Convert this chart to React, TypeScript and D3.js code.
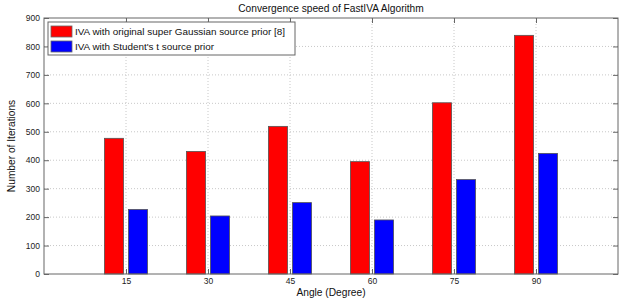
import { useRef, useEffect } from 'react';
import * as d3 from 'd3';

const angles = [15, 30, 45, 60, 75, 90];
const originalPrior = [477, 431, 519, 395, 602, 839];
const studentPrior = [227, 204, 251, 190, 332, 424];
const yTicks = [0, 100, 200, 300, 400, 500, 600, 700, 800, 900];
const seriesNames = [
  'IVA with original super Gaussian source prior [8]',
  "IVA with Student's t source prior",
];
const seriesColors = ['#ff0000', '#0000ff'];

export default function App() {
  const svgRef = useRef<SVGSVGElement>(null);

  useEffect(() => {
    const svg = svgRef.current;
    if (!svg) return;
    const width = 621;
    const height = 298;
    const margin = { top: 18, right: 3, bottom: 24, left: 44 };
    const innerW = width - margin.left - margin.right;
    const innerH = height - margin.top - margin.bottom;
    const font = 'Liberation Sans, Arial, sans-serif';
    const labelSize = '10.2px';

    const sel = d3.select(svg);
    sel.selectAll('*').remove();
    sel.attr('width', width).attr('height', height);

    const g = sel.append('g').attr('transform', `translate(${margin.left},${margin.top})`);

    const x = d3.scaleLinear().domain([0, 105]).range([0, innerW]);
    const y = d3.scaleLinear().domain([0, 900]).range([innerH, 0]);

    // grid
    g.selectAll('.gy')
      .data(yTicks.slice(1, -1))
      .join('line')
      .attr('x1', 0)
      .attr('x2', innerW)
      .attr('y1', (d) => y(d))
      .attr('y2', (d) => y(d))
      .attr('stroke', '#c8c8c8')
      .attr('stroke-dasharray', '1,2');
    g.selectAll('.gx')
      .data(angles)
      .join('line')
      .attr('x1', (d) => x(d))
      .attr('x2', (d) => x(d))
      .attr('y1', 0)
      .attr('y2', innerH)
      .attr('stroke', '#c8c8c8')
      .attr('stroke-dasharray', '1,2');

    // bars
    const bw = 3.5;
    const off = 2.2;
    const series = [originalPrior, studentPrior];
    series.forEach((vals, si) => {
      g.selectAll(`.bar${si}`)
        .data(vals)
        .join('rect')
        .attr('x', (_, i) => x(angles[i] + (si === 0 ? -off : off) - bw / 2))
        .attr('width', x(bw) - x(0))
        .attr('y', (d) => y(d))
        .attr('height', (d) => innerH - y(d))
        .attr('fill', seriesColors[si])
        .attr('stroke', '#555')
        .attr('stroke-width', 0.8);
    });

    // axes
    const styleAxis = (a: d3.Selection<SVGGElement, unknown, null, undefined>) => {
      a.select('.domain').remove();
      a.selectAll('.tick line').attr('stroke', '#666');
      a.selectAll('.tick text')
        .attr('fill', '#222')
        .attr('font-size', '8.5px')
        .attr('font-family', font);
    };
    g.append('g')
      .attr('transform', `translate(0,${innerH})`)
      .call(d3.axisBottom(x).tickValues(angles).tickSize(-5).tickPadding(4))
      .call(styleAxis);
    g.append('g')
      .call(d3.axisTop(x).tickValues(angles).tickSize(-5).tickFormat(() => ''))
      .call(styleAxis);
    g.append('g')
      .call(d3.axisLeft(y).tickValues(yTicks).tickSize(-5).tickPadding(4))
      .call(styleAxis);
    g.append('g')
      .attr('transform', `translate(${innerW},0)`)
      .call(d3.axisRight(y).tickValues(yTicks).tickSize(-5).tickFormat(() => ''))
      .call(styleAxis);

    g.append('rect')
      .attr('width', innerW)
      .attr('height', innerH)
      .attr('fill', 'none')
      .attr('stroke', '#666');

    // legend
    const lg = g.append('g').attr('transform', 'translate(4,4)');
    lg.append('rect')
      .attr('width', 247)
      .attr('height', 33)
      .attr('fill', '#fff')
      .attr('stroke', '#666');
    seriesNames.forEach((name, i) => {
      lg.append('rect')
        .attr('x', 3)
        .attr('y', 4 + i * 15)
        .attr('width', 21)
        .attr('height', 11)
        .attr('fill', seriesColors[i])
        .attr('stroke', '#666')
        .attr('stroke-width', 0.8);
      lg.append('text')
        .attr('x', 27)
        .attr('y', 9.5 + i * 15)
        .attr('dy', '0.35em')
        .attr('font-size', '9.9px')
        .attr('font-family', font)
        .attr('fill', '#111')
        .text(name);
    });

    // labels
    sel.append('text')
      .attr('x', margin.left + innerW / 2)
      .attr('y', 12)
      .attr('text-anchor', 'middle')
      .attr('font-size', labelSize)
      .attr('font-family', font)
      .attr('fill', '#111')
      .text('Convergence speed of FastIVA Algorithm');
    sel.append('text')
      .attr('x', margin.left + innerW / 2)
      .attr('y', 296)
      .attr('text-anchor', 'middle')
      .attr('font-size', labelSize)
      .attr('font-family', font)
      .attr('fill', '#111')
      .text('Angle (Degree)');
    sel.append('text')
      .attr('transform', `translate(15,${margin.top + innerH / 2}) rotate(-90)`)
      .attr('text-anchor', 'middle')
      .attr('font-size', labelSize)
      .attr('font-family', font)
      .attr('fill', '#111')
      .text('Number of Iterations');
  }, []);

  return (
    <div style={{ position: 'absolute', left: 0, top: 0 }}>
      <svg ref={svgRef} style={{ display: 'block' }} />
    </div>
  );
}
